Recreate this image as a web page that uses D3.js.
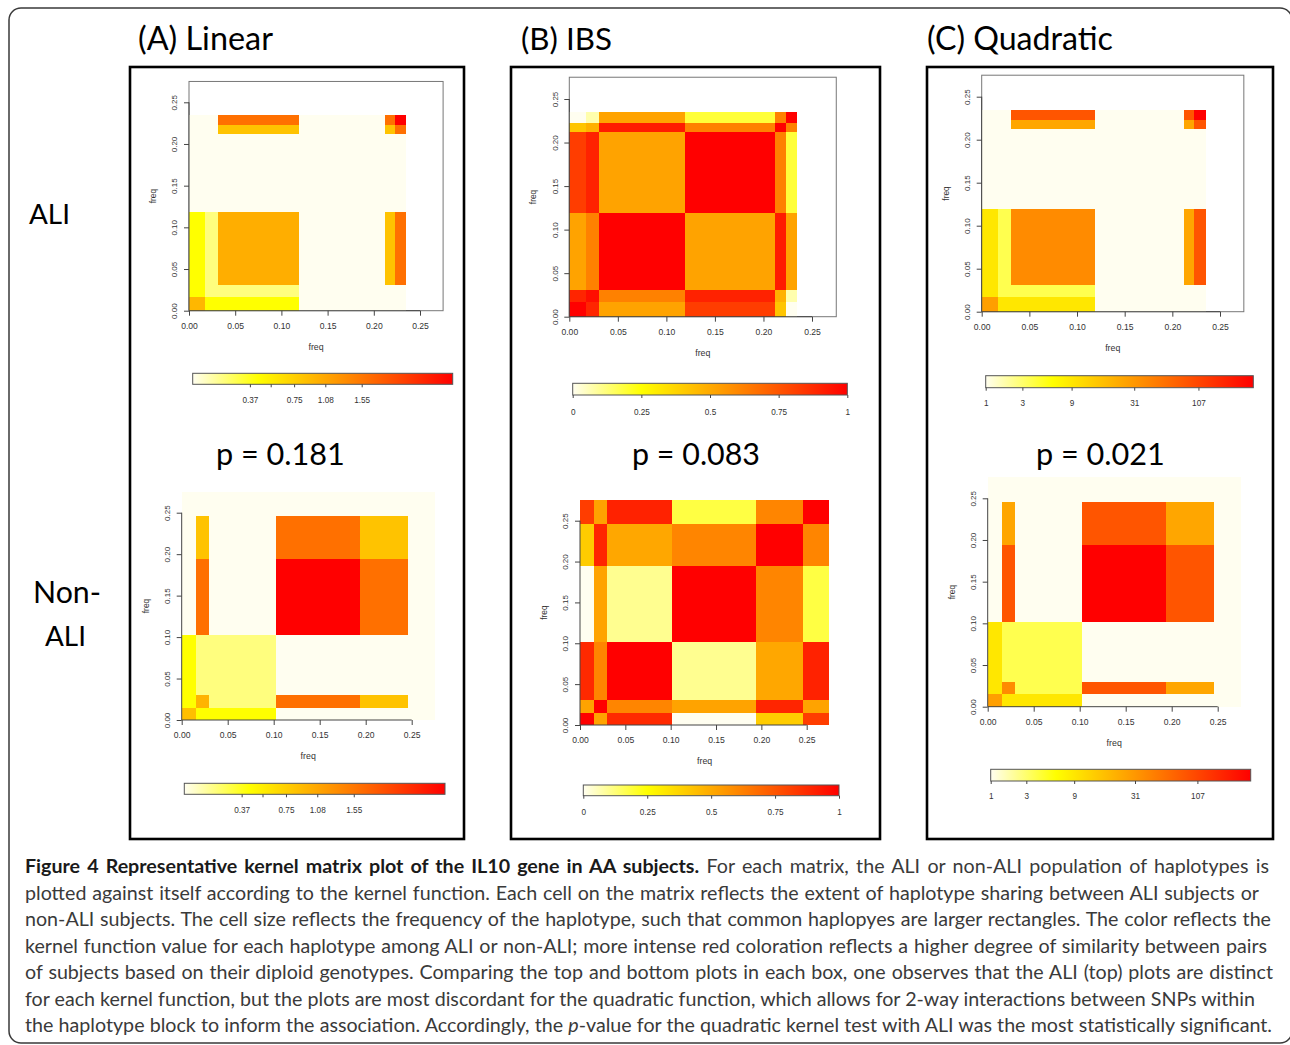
<!DOCTYPE html>
<html><head><meta charset="utf-8">
<script src="https://cdn.jsdelivr.net/npm/d3@7"></script>
<style>body{margin:0;background:#fff;} svg{display:block;}</style>
</head><body><svg id="fig" width="1290" height="1045"></svg>
<script>
// ================= DATA =================
const kernelTitles = ["(A) Linear", "(B) IBS", "(C) Quadratic"];
const groupLabels = [["ALI"], ["Non-", "ALI"]];
const pValueLabels = ["p = 0.181", "p = 0.083", "p = 0.021"];
const freqTicks = [0, 0.05, 0.10, 0.15, 0.20, 0.25];
const freqMax = 0.275;
const axisTitle = "freq";

// cumulative haplotype frequencies (cell boundaries)
const aliBreaks    = [0, 0.017, 0.031, 0.119, 0.212, 0.223, 0.235];
const nonAliBreaks = [0, 0.015, 0.030, 0.102, 0.194, 0.246, 0.275];

// kernel matrices, rows listed bottom -> top, columns left -> right
const linearALI = [
  [0.95, 0.44, 0.44, 0, 0,    0],
  [0.44, 0.20, 0.20, 0, 0,    0],
  [0.44, 0.20, 1.02, 0, 0.85, 1.60],
  [0,    0,    0,    0, 0,    0],
  [0,    0,    0.85, 0, 0.85, 1.60],
  [0,    0,    1.60, 0, 1.60, 2.40]
];
const linearNonALI = [
  [0.88, 0.44, 0.44, 0,    0,    0],
  [0.44, 0.97, 0.20, 1.60, 0.85, 0],
  [0.44, 0.20, 0.20, 0,    0,    0],
  [0,    1.60, 0,    2.40, 1.60, 0],
  [0,    0.85, 0,    1.60, 0.85, 0],
  [0,    0,    0,    0,    0,    0]
];
const ibsALI = [
  [1.00, 0.89, 0.52, 0.82, 0.42, 0.00],
  [0.89, 0.96, 0.62, 0.90, 0.48, 0.07],
  [0.52, 0.62, 1.00, 0.52, 0.92, 0.52],
  [0.82, 0.90, 0.52, 1.00, 0.62, 0.19],
  [0.42, 0.48, 0.92, 0.62, 1.00, 0.62],
  [0.00, 0.07, 0.52, 0.19, 0.62, 1.00]
];
const ibsNonALI = [
  [1.00, 0.52, 0.88, 0.00, 0.40, 0.82],
  [0.52, 1.00, 0.61, 0.52, 0.89, 0.52],
  [0.88, 0.61, 1.00, 0.10, 0.51, 0.90],
  [0.00, 0.52, 0.10, 1.00, 0.61, 0.18],
  [0.40, 0.89, 0.51, 0.61, 1.00, 0.61],
  [0.82, 0.52, 0.90, 0.18, 0.61, 1.00]
];
const quadALI = [
  [29, 9,  9,  1, 1,  1],
  [9,  4,  4,  1, 1,  1],
  [9,  4,  42, 1, 27, 93],
  [1,  1,  1,  1, 1,  1],
  [1,  1,  27, 1, 27, 93],
  [1,  1,  93, 1, 93, 300]
];
const quadNonALI = [
  [29, 9,  9, 1,   1,  1],
  [9,  42, 4, 93,  27, 1],
  [9,  4,  4, 1,   1,  1],
  [1,  93, 1, 300, 93, 1],
  [1,  27, 1, 93,  27, 1],
  [1,  1,  1, 1,   1,  1]
];

// colour-key ticks
const linearKeyTicks  = [0.37, 0.55, 0.75, 1.08, 1.55];
const linearKeyLabels = ["0.37", "", "0.75", "1.08", "1.55"];
const ibsKeyTicks     = [0, 0.25, 0.5, 0.75, 1];
const ibsKeyLabels    = ["0", "0.25", "0.5", "0.75", "1"];
const quadKeyTicks    = [1, 3, 9, 31, 107];
const quadKeyLabels   = ["1", "3", "9", "31", "107"];

// colour-key break values and their place along the key (0..1)
const linearKeyBreaks = [0, 0.37, 0.55, 0.75, 1.08, 1.55, 2.4];
const linearKeyPlace  = [0, 0.22, 0.30, 0.39, 0.51, 0.65, 1];
const ibsKeyBreaks    = [0, 1];
const ibsKeyPlace     = [0, 1];
const quadKeyBreaks   = [1, 3, 9, 31, 107, 300];
const quadKeyPlace    = [0, 0.137, 0.321, 0.555, 0.795, 1];

const captionLines = [
  [["Figure 4 Representative kernel matrix plot of the IL10 gene in AA subjects.", "b"], [" For each matrix, the ALI or non-ALI population of haplotypes is", "n"]],
  [["plotted against itself according to the kernel function. Each cell on the matrix reflects the extent of haplotype sharing between ALI subjects or", "n"]],
  [["non-ALI subjects. The cell size reflects the frequency of the haplotype, such that common haplopyes are larger rectangles. The color reflects the", "n"]],
  [["kernel function value for each haplotype among ALI or non-ALI; more intense red coloration reflects a higher degree of similarity between pairs", "n"]],
  [["of subjects based on their diploid genotypes. Comparing the top and bottom plots in each box, one observes that the ALI (top) plots are distinct", "n"]],
  [["for each kernel function, but the plots are most discordant for the quadratic function, which allows for 2-way interactions between SNPs within", "n"]],
  [["the haplotype block to inform the association. Accordingly, the ", "n"], ["p", "i"], ["-value for the quadratic kernel test with ALI was the most statistically significant.", "n"]]
];

// ================= LAYOUT =================
const svg = d3.select("#fig");
const RFONT = "'Liberation Sans', Arial, sans-serif";
const TFONT = "Lato, 'Open Sans', sans-serif";

const matrices = [[linearALI, ibsALI, quadALI], [linearNonALI, ibsNonALI, quadNonALI]];
const breaksByRow = [aliBreaks, nonAliBreaks];
const keyTicks = [linearKeyTicks, ibsKeyTicks, quadKeyTicks];
const keyLabels = [linearKeyLabels, ibsKeyLabels, quadKeyLabels];
const keyBreaks = [linearKeyBreaks, ibsKeyBreaks, quadKeyBreaks];
const keyPlace = [linearKeyPlace, ibsKeyPlace, quadKeyPlace];

// plot geometry: pixel of freq 0 and freq 0.25 on each axis; key box
const geom = [
  [
    {x0: 189,   x25: 420,   y0: 310.7, y25: 102.3, key: [192.7, 373.3, 452.7, 384.3], keyLab: 400},
    {x0: 569.3, x25: 812,   y0: 316.7, y25: 99,    key: [572.7, 383.3, 847.3, 395],   keyLab: 411.7},
    {x0: 981.7, x25: 1220,  y0: 311.7, y25: 96.7,  key: [985.7, 375.7, 1253.3, 387.7], keyLab: 403.3}
  ],
  [
    {x0: 181.7, x25: 411.7, y0: 720,   y25: 512.7, key: [184.3, 783.3, 445, 794.3],   keyLab: 810},
    {x0: 580,   x25: 806.7, y0: 725,   y25: 520.7, key: [583.3, 785, 839, 795.7],     keyLab: 811.7},
    {x0: 987.7, x25: 1217.7,y0: 706.7, y25: 498.3, key: [990.7, 769.3, 1250.7, 781],  keyLab: 796}
  ]
];
const frames = [[130, 67, 464, 839], [511, 67, 880, 839], [927, 67, 1273, 839]];

// heat colours (reversed R heat.colors): cream -> yellow -> red
const heat = d3.scaleLinear().domain([0, 0.25, 1]).range(["#FFFEF0", "#FFFF00", "#FF0000"]).clamp(true);

// outer rounded frame
svg.append("rect").attr("x", 9).attr("y", 8).attr("width", 1283).attr("height", 1035)
  .attr("rx", 12).attr("fill", "none").attr("stroke", "#3a3a3a").attr("stroke-width", 1.5);

// panel frames
frames.forEach(f => {
  svg.append("rect").attr("x", f[0]).attr("y", f[1]).attr("width", f[2] - f[0]).attr("height", f[3] - f[1])
    .attr("fill", "none").attr("stroke", "#000").attr("stroke-width", 2.6);
});

const defs = svg.append("defs");

function fitFont(sel, target) {
  const w = sel.node().getComputedTextLength();
  const fs = parseFloat(sel.attr("font-size"));
  sel.attr("font-size", fs * target / w);
}

for (let r = 0; r < 2; r++) {
  for (let k = 0; k < 3; k++) {
    const g0 = geom[r][k];
    const mat = matrices[r][k];
    const br = breaksByRow[r];
    const x = d3.scaleLinear().domain([0, 0.25]).range([g0.x0, g0.x25]);
    const y = d3.scaleLinear().domain([0, 0.25]).range([g0.y0, g0.y25]);
    const valToPlace = d3.scaleLinear().domain(keyBreaks[k]).range(keyPlace[k]).clamp(true);
    const colour = v => heat(valToPlace(v));
    const g = svg.append("g");

    // plot box (visible where image does not fill the region)
    if (br[br.length - 1] < freqMax - 0.001) {
      g.append("rect").attr("x", x(0)).attr("y", y(freqMax)).attr("width", x(freqMax) - x(0))
        .attr("height", y(0) - y(freqMax)).attr("fill", "none").attr("stroke", "#777").attr("stroke-width", 1);
    }

    // cells
    const cells = [];
    mat.forEach((row, i) => row.forEach((v, j) => cells.push({i, j, v})));
    g.append("g").selectAll("rect").data(cells).join("rect")
      .attr("x", d => x(br[d.j]))
      .attr("y", d => y(br[d.i + 1]))
      .attr("width", d => x(br[d.j + 1]) - x(br[d.j]))
      .attr("height", d => y(br[d.i]) - y(br[d.i + 1]))
      .attr("fill", d => colour(d.v))
      .attr("shape-rendering", "crispEdges");

    // x axis
    const xa = g.append("g").attr("transform", `translate(0,${g0.y0})`)
      .call(d3.axisBottom(x).tickValues(freqTicks).tickFormat(d3.format(".2f")).tickSize(5).tickSizeOuter(0));
    xa.select(".domain").remove();
    xa.append("line").attr("x1", x(0)).attr("x2", x(0.25)).attr("stroke", "#444");
    xa.selectAll(".tick line").attr("stroke", "#444");
    xa.selectAll("text").attr("y", 15).attr("dy", "0.35em").attr("font-family", RFONT)
      .attr("font-size", 8.6).attr("fill", "#333");

    // y axis
    const ya = g.append("g").attr("transform", `translate(${g0.x0},0)`)
      .call(d3.axisLeft(y).tickValues(freqTicks).tickFormat(d3.format(".2f")).tickSize(5).tickSizeOuter(0));
    ya.select(".domain").remove();
    ya.append("line").attr("y1", y(0)).attr("y2", y(0.25)).attr("stroke", "#444");
    ya.selectAll(".tick line").attr("stroke", "#444");
    ya.selectAll("text").attr("x", null).attr("dy", "0.35em").attr("text-anchor", "middle")
      .attr("transform", "translate(-14.5,0) rotate(-90)")
      .attr("font-family", RFONT).attr("font-size", 8).attr("fill", "#333");

    // axis titles
    g.append("text").attr("x", (x(0) + x(freqMax)) / 2).attr("y", g0.y0 + 36).attr("dy", "0.35em")
      .attr("text-anchor", "middle").attr("font-family", RFONT).attr("font-size", 8.8).attr("fill", "#333").text(axisTitle);
    g.append("text").attr("transform", `translate(${g0.x0 - 36},${(y(0) + y(freqMax)) / 2}) rotate(-90)`)
      .attr("dy", "0.35em").attr("text-anchor", "middle").attr("font-family", RFONT).attr("font-size", 8.4)
      .attr("fill", "#333").text(axisTitle);

    // colour key
    const [kx0, ky0, kx1, ky1] = g0.key;
    const gid = `grad${r}${k}`;
    const grad = defs.append("linearGradient").attr("id", gid).attr("x1", "0%").attr("x2", "100%");
    d3.range(0, 1.0001, 0.05).forEach(t => grad.append("stop").attr("offset", t).attr("stop-color", heat(t)));
    g.append("rect").attr("x", kx0).attr("y", ky0).attr("width", kx1 - kx0).attr("height", ky1 - ky0)
      .attr("fill", `url(#${gid})`).attr("stroke", "#555").attr("stroke-width", 1);
    const keyScale = d3.scaleLinear().domain(keyBreaks[k])
      .range(keyPlace[k].map(p => kx0 + p * (kx1 - kx0)));
    const ka = g.append("g").attr("transform", `translate(0,${ky1})`)
      .call(d3.axisBottom(keyScale).tickValues(keyTicks[k]).tickFormat((d, i) => keyLabels[k][i]).tickSize(3).tickSizeOuter(0));
    ka.select(".domain").remove();
    ka.selectAll(".tick line").attr("stroke", "#444");
    ka.selectAll("text").attr("y", g0.keyLab - ky1).attr("dy", "0.35em").attr("font-family", RFONT)
      .attr("font-size", 8.2).attr("fill", "#333");
  }
}

// kernel titles
const titleX = [[138, 135], [521, 91], [927, 186]];
kernelTitles.forEach((t, k) => {
  const tx = svg.append("text").attr("x", titleX[k][0]).attr("y", 49.5).attr("font-family", TFONT)
    .attr("font-size", 30).attr("fill", "#000").text(t);
  fitFont(tx, titleX[k][1]);
});

// p-values
const pX = [[216, 129], [632, 128], [1036, 129]];
pValueLabels.forEach((t, k) => {
  const tx = svg.append("text").attr("x", pX[k][0]).attr("y", 465).attr("font-family", TFONT)
    .attr("font-size", 30).attr("fill", "#000").text(t);
  fitFont(tx, pX[k][1]);
});

// row labels
const rowLab = [[[29, 224, 41]], [[33, 603, 68], [45, 646, 41]]];
groupLabels.forEach((lines, r) => {
  lines.forEach((t, li) => {
    const p = rowLab[r][li];
    const tx = svg.append("text").attr("x", p[0]).attr("y", p[1]).attr("font-family", TFONT)
      .attr("font-size", 30).attr("fill", "#000").text(t);
    fitFont(tx, p[2]);
  });
});

// caption (single text element per line, justified with word spacing)
const capEnds = [1269, 1259, 1271, 1267, 1273, 1255, 1272];
const capBase = [873, 900, 926, 953, 979, 1006, 1032];
const capNodes = captionLines.map((segs, li) => {
  const tx = svg.append("text").attr("x", 25).attr("y", capBase[li]).attr("font-family", TFONT)
    .attr("font-size", 18).attr("fill", "#3a3a3a");
  segs.forEach(s => {
    const ts = tx.append("tspan").text(s[0]);
    if (s[1] === "b") ts.attr("font-weight", "bold").attr("fill", "#1a1a1a");
    if (s[1] === "i") ts.attr("font-style", "italic");
  });
  return tx;
});
const ratios = capNodes.map((n, li) => (capEnds[li] - 25) / n.node().getComputedTextLength());
const fsCap = 18 * d3.min(ratios);
capNodes.forEach((n, li) => {
  n.attr("font-size", fsCap);
  const wNat = n.node().getComputedTextLength();
  const nSpaces = captionLines[li].map(s => s[0]).join("").split(" ").length - 1;
  n.attr("word-spacing", ((capEnds[li] - 25) - wNat) / nSpaces);
});
</script>
</body></html>
